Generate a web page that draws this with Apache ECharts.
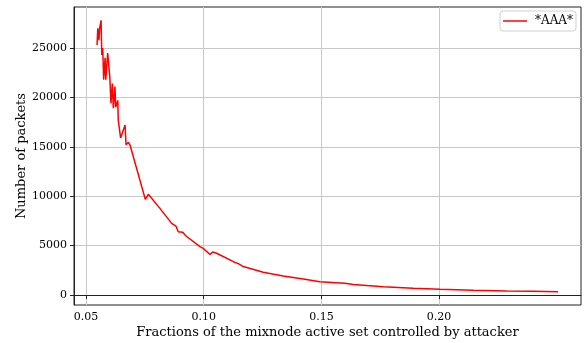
<!DOCTYPE html>
<html>
<head>
<meta charset="utf-8">
<script src="https://cdn.jsdelivr.net/npm/echarts@6/dist/echarts.min.js"></script>
<style>
  html, body { margin: 0; padding: 0; background: #fff; }
  #chart { width: 584px; height: 343px; }
</style>
</head>
<body>
<div id="chart"></div>
<script>
// Fraction of the mixnode active set held by the attacker
const fractions = [
  0.0547, 0.0550, 0.0555, 0.0558, 0.0564, 0.0567, 0.0571, 0.0575, 0.0581, 0.0584,
  0.0592, 0.0601, 0.0606, 0.0612, 0.0616, 0.0623, 0.0626, 0.0635, 0.0637, 0.0647,
  0.0666, 0.0670, 0.0680, 0.0687, 0.0752, 0.0765, 0.0768, 0.0814, 0.0864, 0.0882,
  0.0892, 0.0899, 0.0911, 0.0925, 0.0984, 0.0998, 0.1027, 0.1038, 0.1055, 0.1126,
  0.1147, 0.1151, 0.1168, 0.1253, 0.1338, 0.1423, 0.1494, 0.1600, 0.1636, 0.1763,
  0.1890, 0.2004, 0.2145, 0.2287, 0.2400, 0.2506
];
// Packets needed at each fraction
const packets = [
  25300, 27000, 25800, 27000, 27800, 24300, 25000, 21800, 24000, 21800,
  24500, 22100, 19400, 21400, 18900, 21100, 19000, 19700, 17700, 15900,
  17200, 15200, 15450, 15180, 9680, 10190, 10050, 8770, 7250, 6980,
  6410, 6580, 6340, 5970, 4900, 4720, 4100, 4350, 4230, 3370,
  3180, 3230, 2880, 2300, 1920, 1620, 1350, 1180, 1060, 840,
  680, 580, 475, 405, 375, 335
];
const xTicks = [0.05, 0.10, 0.15, 0.20];
const yTicks = [0, 5000, 10000, 15000, 20000, 25000];
const seriesName = '*AAA*';

const font = 'DejaVu Serif';
const chart = echarts.init(document.getElementById('chart'));
chart.setOption({
  animation: false,
  backgroundColor: '#fff',
  textStyle: { fontFamily: font },
  grid: {
    left: 74, right: 3, top: 7, bottom: 38,
    containLabel: false, outerBoundsMode: 'none',
    show: true, borderColor: '#222', borderWidth: 1, backgroundColor: 'transparent'
  },
  legend: {
    right: 8, top: 11,
    padding: [4, 3, 4, 3],
    borderColor: '#d0d0d0', borderWidth: 1, borderRadius: 3,
    backgroundColor: '#fff',
    icon: 'rect', itemWidth: 24, itemHeight: 1.5, itemGap: 10,
    textStyle: { fontFamily: font, fontSize: 12, color: '#000', padding: [0, 0, 0, 3] },
    data: [seriesName]
  },
  xAxis: {
    type: 'value',
    min: 0.0449, max: 0.2603,
    name: 'Fractions of the mixnode active set controlled by attacker',
    nameLocation: 'middle', nameGap: 21, nameMoveOverlap: false,
    nameTextStyle: { fontFamily: font, fontSize: 13, color: '#000' },
    axisLine: { show: true, lineStyle: { color: '#222', width: 1 } },
    axisTick: { show: true, length: 4, lineStyle: { color: '#222' }, customValues: xTicks },
    axisLabel: {
      fontFamily: font, fontSize: 11, color: '#000', margin: 7,
      customValues: xTicks,
      formatter: v => v.toFixed(2)
    },
    splitLine: { show: true, lineStyle: { color: '#c8c8c8', width: 1 } }
  },
  yAxis: {
    type: 'value',
    min: -1012, max: 29150,
    name: 'Number of packets',
    nameLocation: 'middle', nameGap: 46, nameMoveOverlap: false,
    nameTextStyle: { fontFamily: font, fontSize: 13, color: '#000' },
    axisLine: { show: true, lineStyle: { color: '#222', width: 1 } },
    axisTick: { show: true, length: 4, lineStyle: { color: '#222' }, customValues: yTicks },
    axisLabel: {
      fontFamily: font, fontSize: 11, color: '#000', margin: 7,
      customValues: yTicks,
      formatter: v => String(v)
    },
    splitLine: { show: true, lineStyle: { color: '#c8c8c8', width: 1 } }
  },
  series: [{
    name: seriesName,
    type: 'line',
    data: fractions.map((f, i) => [f, packets[i]]),
    showSymbol: false,
    symbol: 'none',
    lineStyle: { color: '#ff0000', width: 1.5 },
    itemStyle: { color: '#ff0000' }
  }]
});
</script>
</body>
</html>
